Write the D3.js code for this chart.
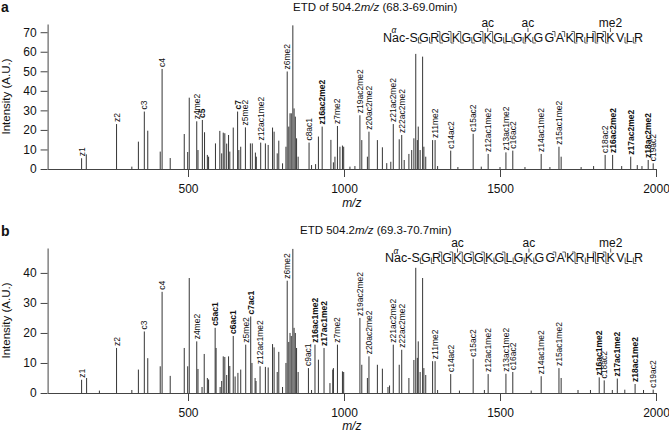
<!DOCTYPE html>
<html><head><meta charset="utf-8">
<script src="https://cdn.jsdelivr.net/npm/d3@7/dist/d3.min.js"></script>
<style>
body{margin:0;background:#fff}
svg{display:block}
text{font-family:"Liberation Sans",Arial,Helvetica,sans-serif;fill:#111}
</style>
</head><body>
<svg id="chart" width="669" height="433"></svg>
<script>
// ---------- data ----------
const xTicks = [500, 1000, 1500, 2000];
const yTicksA = [0, 10, 20, 30, 40, 50, 60, 70];
const yTicksB = [0, 10, 20, 30, 40];
const residues = ["S","G","R","G","K","G","G","K","G","L","G","K","G","G","A","K","R","H","R","K","V","L","R"];

// labelled peaks: [m/z, intensity, label, bold]
const labelsA = [
  [159,5.5,"z1",0],[271,23,"z2",0],[360,29.4,"c3",0],[417,51.2,"c4",0],
  [528,24.4,"z4me2",0],[546,25.1,"c5",1],[659,29.4,"c7",1],[684,21.3,"z5me2",0],
  [733,13.5,"z12ac1me2",0],[818,49.9,"z6me2",0],[888,13.5,"c8ac1",0],
  [930,21.7,"z16ac2me2",1],[979,22,"z7me2",0],[1051,27.5,"z19ac2me2",0],
  [1080,19.1,"z20ac2me2",0],[1158,23,"z21ac2me2",0],[1185,17.4,"z22ac2me2",0],
  [1292,14.8,"z11me2",0],[1342,9.4,"c14ac2",0],[1414,18,"c15ac2",0],
  [1462,7.7,"z12ac1me2",0],[1519,8.5,"z13ac1me2",0],[1541,9.4,"c16ac2",0],
  [1632,7.7,"z14ac1me2",0],[1689,11.4,"z15ac1me2",0],[1837,7.2,"c18ac2",0],
  [1861,7.2,"z16ac2me2",1],[1919,6.3,"z17ac2me2",1],[1975,4.6,"z18ac2me2",1],
  [1991,2.9,"c19ac2",0]
];
// unlabelled peaks: [m/z, intensity]
const peaksA = [
  [174,7.5],[320,1.2],[341,14],[371,19.6],[411,8.9],[443,5.6],[488,17.9],[499,8.7],
  [504,36.5],[532,9.7],[553,18.8],[562,7.2],[566,6.3],[588,13.1],[602,19.5],[608,8],
  [613,18.6],[618,18.3],[624,13],[630,17.4],[634,8.9],[645,21.2],[663,9.7],[669,11.4],
  [700,13.1],[706,13.1],[716,8.4],[719,6.3],[748,13.1],[757,12.3],[771,21.2],[776,19.1],
  [786,8],[791,14.5],[803,2.9],[814,11.4],[823,21.7],[827,28.5],[831,28.5],[836,73.5],
  [840,31],[844,26.8],[848,15.7],[853,6.3],[896,2],[909,2.5],[918,16.6],[958,14.9],
  [966,3.4],[971,6.3],[987,11.4],[995,12],[999,11.4],[1019,1.2],[1035,1.5],[1057,14.8],
  [1075,6.3],[1107,14.8],[1123,11.1],[1137,3],[1150,3.7],[1177,15.2],[1193,4.6],
  [1208,7.7],[1217,9.7],[1224,15.7],[1230,58.9],[1235,14.8],[1238,21.7],[1244,9.7],
  [1252,57.5],[1256,11.4],[1262,6.3],[1284,14.8],[1300,1.5],[1365,1],[1440,1.2],
  [1500,1],[1580,1],[1660,1],[1696,6.3],[1760,1],[1800,1.5],[1890,1.5],[1940,2],[1955,1.5]
];

const labelsB = [
  [159,4.4,"z1",0],[271,15,"z2",0],[360,20.5,"c3",0],[417,33.7,"c4",0],
  [528,17.2,"z4me2",0],[587,21.7,"c5ac1",1],[645,19,"c6ac1",1],[685,16.1,"z5me2",0],
  [701,25.5,"c7ac1",1],[731,8.9,"z12ac1me2",0],[818,37.4,"z6me2",0],[886,8.3,"c9ac1",0],
  [907,16.1,"z16ac1me2",1],[936,15,"z17ac1me2",1],[979,16.1,"z7me2",0],
  [1051,25,"z19ac2me2",0],[1080,12.2,"z20ac2me2",0],[1158,16.1,"z21ac2me2",0],
  [1185,14.4,"z22ac2me2",0],[1292,10.6,"z11me2",0],[1342,6.3,"c14ac2",0],
  [1414,11.4,"c15ac2",0],[1462,6.3,"z12ac1me2",0],[1519,6.4,"z13ac1me2",0],
  [1541,7,"c16ac2",0],[1632,5.6,"z14ac1me2",0],[1689,8.3,"z15ac1me2",0],
  [1818,5.2,"z16ac1me2",1],[1834,4.2,"c18ac2",0],[1876,4.8,"z17ac1me2",1],
  [1933,3,"z18ac1me2",1],[1991,1.1,"c19ac2",0]
];
const peaksB = [
  [175,5],[216,0.8],[320,1],[341,7.8],[371,11.6],[411,8.9],[443,5.7],[488,15],[499,8.9],
  [504,38.3],[532,8],[545,2],[552,13],[562,5],[566,4.5],[590,15],[603,2],[608,4],
  [613,12.2],[618,12],[624,6],[630,12.2],[634,9],[651,5.5],[660,6.7],[669,7.8],[705,10],
  [715,5],[718,4],[748,8.7],[757,8.5],[771,16.3],[776,15.2],[786,7],[791,13.7],[803,2],
  [814,10],[823,17],[827,20],[831,19],[836,48],[840,21.7],[844,20],[848,15],[853,7],
  [896,1],[918,11.1],[955,3.3],[964,7.8],[966,8.3],[995,7.2],[999,7],[1057,9.4],[1075,5],
  [1107,9.4],[1123,8.1],[1141,2],[1146,2.5],[1177,9.4],[1208,5],[1224,11],[1230,41.7],
  [1235,11.7],[1238,17.2],[1244,7],[1252,38.3],[1256,8.3],[1262,6],[1284,10.6],[1300,1],
  [1370,0.8],[1450,1],[1600,0.8],[1696,5],[1750,1],[1790,1],[1860,1],[1900,1.1],[1960,1]
];

// sequence annotation data
const cSitesA = [3,4,5,7,8,14,15,16,18,19];
const zSitesA = [1,2,4,5,6,7,11,12,13,14,15,16,17,18,19,20,21,22];
const modsA = [[8,"ac"],[12,"ac"],[20,"me2"]];
const cSitesB = [3,4,5,6,7,9,14,15,16,18,19];
const zSitesB = [1,2,4,5,6,7,11,12,13,14,15,16,17,18,19,20,21,22];
const modsB = [[5,"ac"],[12,"ac"],[20,"me2"]];

// ---------- drawing ----------
const svg = d3.select("#chart");
const FONT = '"Liberation Sans",Arial,Helvetica,sans-serif';
const x = d3.scaleLinear().domain([50, 2000]).range([47.6, 656]);

function measure(str, size, weight) {
  const t = svg.append("text").attr("font-size", size).attr("font-weight", weight || "normal").text(str);
  const w = t.node().getComputedTextLength();
  t.remove();
  return w;
}

function drawPanel(cfg) {
  const y = d3.scaleLinear().domain([0, cfg.ymax]).range([cfg.y0, cfg.y0 - 145]);
  const g = svg.append("g");

  // panel letter
  g.append("text").attr("x", 1).attr("y", cfg.letterY).attr("font-size", 14)
    .attr("font-weight", "bold").text(cfg.letter);

  // title
  const tt = g.append("text").attr("x", cfg.titleX).attr("y", cfg.titleY).attr("font-size", 11.5);
  tt.append("tspan").text(cfg.titlePre);
  tt.append("tspan").attr("font-style", "italic").text("m/z");
  tt.append("tspan").text(cfg.titlePost);

  // peaks
  const all = cfg.peaks.concat(cfg.labels.map(d => [d[0], d[1]]));
  g.append("g").selectAll("line").data(all).join("line")
    .attr("x1", d => x(d[0])).attr("x2", d => x(d[0]))
    .attr("y1", y(0)).attr("y2", d => y(d[1]))
    .attr("stroke", "#1e1e1e").attr("stroke-width", 0.9);

  // axes
  const ya = g.append("g").attr("transform", `translate(${x(50)},0)`)
    .call(d3.axisLeft(y).tickValues(cfg.yTicks).tickSize(7).tickSizeOuter(0).tickPadding(4).tickFormat(d3.format("d")));
  const xa = g.append("g").attr("transform", `translate(0,${y(0)})`)
    .call(d3.axisBottom(x).tickValues(xTicks).tickSize(8).tickSizeOuter(0).tickPadding(7).tickFormat(d3.format("d")));
  [ya, xa].forEach(a => {
    a.attr("font-family", FONT).attr("font-size", 12);
    a.selectAll("path,line").attr("stroke", "#444").attr("stroke-width", 1);
    a.selectAll("text").attr("fill", "#111");
  });

  // axis titles
  g.append("text").attr("transform", `translate(10,${(y(0) + y(cfg.ymax)) / 2}) rotate(-90)`)
    .attr("text-anchor", "middle").attr("font-size", 11.5).text("Intensity (A.U.)");
  g.append("text").attr("x", (x(50) + x(2000)) / 2).attr("y", cfg.mzY)
    .attr("text-anchor", "middle").attr("font-size", 12).attr("font-style", "italic").text("m/z");

  // peak labels
  g.append("g").selectAll("text").data(cfg.labels).join("text")
    .attr("transform", d => `translate(${x(d[0])},${y(d[1]) - 2}) rotate(-90)`)
    .attr("dy", "0.35em").attr("font-size", 8.5)
    .attr("font-weight", d => d[3] ? "bold" : "normal")
    .text(d => d[2]);

  drawSequence(g, cfg);
}

function drawSequence(g, cfg) {
  const fs = 12.5, base = cfg.seqY, x0 = cfg.seqX0, x1 = cfg.seqX1;
  const wN = measure("N", fs), wAc = measure("ac-", fs), wAl = measure("α", 8.5);
  const widths = residues.map(r => measure(r, fs));
  const total = d3.sum(widths);
  const gap = Math.max(0, (x1 - x0 - wN - wAc - total) / (residues.length - 1));
  const sg = g.append("g");
  // N, superscript alpha and "ac-" in one text element
  const pre = sg.append("text").attr("x", x0).attr("y", base).attr("font-size", fs);
  pre.append("tspan").text("N");
  pre.append("tspan").attr("dx", -0.5).attr("dy", -8.5).attr("font-size", 8.5)
    .attr("font-style", "italic").text("α");
  pre.append("tspan").attr("dx", -wAl + 0.5).attr("dy", 8.5).text("ac-");
  let cx = x0 + wN + wAc;
  const pos = [];
  residues.forEach((r, i) => {
    pos.push({ l: cx, r: cx + widths[i], c: cx + widths[i] / 2 });
    cx += widths[i] + gap;
  });
  sg.selectAll(".res").data(residues).join("text").attr("class", "res")
    .attr("x", (d, i) => pos[i].l).attr("y", base).attr("font-size", fs).text(d => d);

  const top = base - 10, mid = base - 4.5, bot = base + 1.5;
  const cMarks = cfg.cSites.map(n => pos[n - 1].r + gap / 2);
  const zMarks = cfg.zSites.map(n => pos[residues.length - n - 1].r + gap / 2);
  sg.selectAll(".cm").data(cMarks).join("path").attr("class", "cm")
    .attr("d", d => `M${d - 3},${top}H${d}V${mid}`)
    .attr("fill", "none").attr("stroke", "#333").attr("stroke-width", 0.8);
  sg.selectAll(".zm").data(zMarks).join("path").attr("class", "zm")
    .attr("d", d => `M${d},${mid}V${bot}H${d + 3}`)
    .attr("fill", "none").attr("stroke", "#333").attr("stroke-width", 0.8);

  // modifications
  cfg.mods.forEach(m => {
    const p = pos[m[0] - 1];
    sg.append("text").attr("x", p.c).attr("y", base - 15).attr("text-anchor", "middle")
      .attr("font-size", 12).text(m[1]);
    sg.append("line").attr("x1", p.c).attr("x2", p.c).attr("y1", base - 13.5).attr("y2", base - 9.5)
      .attr("stroke", "#333").attr("stroke-width", 0.8);
  });
}

drawPanel({
  letter: "a", letterY: 12, titleX: 293, titleY: 10.5,
  titlePre: "ETD of 504.2", titlePost: " (68.3-69.0min)",
  y0: 169, ymax: 74.2, yTicks: yTicksA, labels: labelsA, peaks: peaksA, mzY: 207,
  seqY: 41.5, seqX0: 383, seqX1: 643, cSites: cSitesA, zSites: zSitesA, mods: modsA
});
drawPanel({
  letter: "b", letterY: 236, titleX: 300, titleY: 233.5,
  titlePre: "ETD 504.2", titlePost: " (69.3-70.7min)",
  y0: 393, ymax: 48.3, yTicks: yTicksB, labels: labelsB, peaks: peaksB, mzY: 429.5,
  seqY: 262, seqX0: 385, seqX1: 643, cSites: cSitesB, zSites: zSitesB, mods: modsB
});
</script>
</body></html>
